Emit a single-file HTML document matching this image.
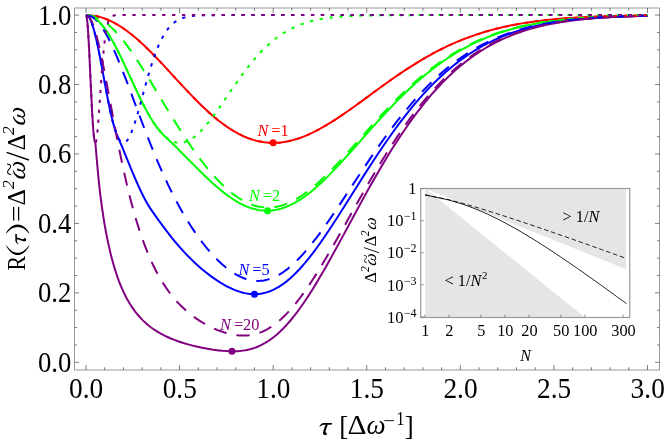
<!DOCTYPE html>
<html><head><meta charset="utf-8"><title>R(tau)</title>
<style>
html,body{margin:0;padding:0;background:#fff;}
body{width:664px;height:441px;overflow:hidden;font-family:"Liberation Serif",serif;}
svg{display:block;will-change:transform;font-family:"Liberation Serif",serif;}
.i{font-style:italic;}
</style></head><body>
<svg width="664" height="441" viewBox="0 0 664 441">
<g fill="none" stroke-width="2" stroke-linejoin="round">
<path d="M86.00,15.10L88.62,15.17L91.24,15.37L93.86,15.71L95.36,15.97L96.86,16.26L99.48,16.89L102.10,17.65L104.72,18.54L107.71,19.71L110.33,20.87L113.33,22.34L115.95,23.76L118.94,25.53L121.94,27.44L124.93,29.49L127.93,31.67L130.92,33.98L133.17,35.79L135.79,37.99L138.41,40.27L141.03,42.63L143.65,45.06L146.64,47.92L149.26,50.48L152.26,53.49L157.12,58.49L162.74,64.43L167.98,70.08L181.08,84.32L188.19,91.92L191.94,95.84L195.31,99.30L198.68,102.68L201.67,105.61L205.04,108.82L208.41,111.92L211.78,114.92L214.77,117.47L218.14,120.23L221.14,122.56L224.13,124.79L227.13,126.89L230.12,128.88L233.12,130.74L236.11,132.48L238.73,133.89L241.73,135.38L244.72,136.74L247.71,137.96L250.34,138.92L253.33,139.88L255.95,140.61L258.57,141.24L261.57,141.83L264.19,142.23L267.18,142.56L270.18,142.76L273.17,142.83L275.79,142.78L278.41,142.63L281.03,142.38L284.03,141.99L286.65,141.54L289.27,141.00L291.89,140.38L294.88,139.56L297.50,138.75L300.50,137.73L303.49,136.60L306.49,135.38L309.48,134.07L312.48,132.67L315.47,131.19L318.47,129.62L321.09,128.20L323.71,126.71L326.33,125.18L329.32,123.37L334.94,119.83L337.93,117.87L341.30,115.61L347.29,111.48L354.03,106.70L360.77,101.82L380.98,87.05L387.34,82.47L393.33,78.25L400.07,73.62L406.44,69.39L412.80,65.30L418.79,61.61L422.53,59.38L425.90,57.42L429.64,55.31L433.01,53.47L436.76,51.49L440.13,49.76L443.49,48.08L446.86,46.46L450.23,44.90L453.60,43.39L456.97,41.94L460.71,40.38L464.08,39.04L467.83,37.62L471.20,36.39L474.94,35.08L478.68,33.83L482.80,32.53L486.92,31.30L491.04,30.14L495.15,29.05L499.27,28.02L503.39,27.05L507.51,26.15L511.62,25.30L516.12,24.43L520.61,23.63L525.10,22.88L529.59,22.19L534.46,21.50L539.33,20.87L544.19,20.30L549.06,19.77L554.30,19.25L559.54,18.79L564.78,18.37L570.02,17.99L575.64,17.63L581.63,17.29L587.62,16.99L600.34,16.48L614.57,16.05L629.92,15.73L647.51,15.49" stroke="#ff0000"/>
<path d="M86.00,15.10L86.94,15.13L88.34,15.32L89.74,15.65L91.15,16.15L92.55,16.79L93.95,17.59L95.36,18.54L96.76,19.63L98.17,20.87L99.57,22.25L100.97,23.76L102.38,25.41L103.78,27.19L105.18,29.09L106.59,31.11L107.99,33.24L110.33,37.04L111.74,39.44L113.14,41.94L115.95,47.19L118.75,52.73L121.09,57.52L123.90,63.43L134.20,85.73L137.94,93.69L140.28,98.53L142.15,102.30L144.02,105.97L145.89,109.52L148.23,113.77L150.11,117.00L152.45,120.82L154.32,123.69L156.19,126.38L158.06,128.88L159.93,131.19L161.80,133.30L163.68,135.20L169.76,140.92L175.84,146.84L181.46,152.44L198.30,169.42L203.92,174.94L207.66,178.52L211.40,182.00L213.28,183.70L217.02,187.00L218.89,188.59L222.63,191.66L224.51,193.13L228.25,195.93L230.12,197.25L231.99,198.53L233.86,199.74L235.74,200.91L237.61,202.01L239.48,203.05L241.35,204.04L243.22,204.96L245.09,205.81L246.97,206.60L248.84,207.33L250.71,207.98L252.58,208.57L254.45,209.08L256.32,209.53L258.20,209.90L260.07,210.20L261.94,210.43L263.81,210.59L265.68,210.67L267.55,210.68L269.43,210.62L271.30,210.49L273.17,210.28L275.04,210.00L276.91,209.64L278.79,209.22L280.66,208.72L282.53,208.15L284.40,207.52L286.27,206.81L288.14,206.04L290.02,205.20L291.89,204.30L293.76,203.33L295.63,202.30L297.50,201.21L299.37,200.06L301.25,198.85L303.12,197.58L304.99,196.26L306.86,194.89L308.73,193.46L312.48,190.46L314.35,188.89L318.09,185.62L319.96,183.92L323.71,180.41L325.58,178.60L329.32,174.88L334.94,169.10L340.55,163.11L346.17,156.95L353.65,148.58L372.37,127.46L379.86,119.16L385.47,113.07L389.22,109.08L392.96,105.16L398.57,99.42L402.32,95.70L406.06,92.06L411.68,86.78L415.42,83.37L419.16,80.06L422.91,76.85L426.65,73.75L430.39,70.74L434.14,67.84L436.01,66.42L439.75,63.67L443.49,61.03L447.24,58.48L450.98,56.04L454.72,53.70L458.47,51.46L462.21,49.31L465.96,47.27L469.70,45.31L473.44,43.45L477.19,41.68L480.93,39.99L486.54,37.62L490.29,36.14L494.03,34.74L497.77,33.42L503.39,31.57L507.13,30.43L512.75,28.83L516.49,27.85L522.11,26.48L525.85,25.64L531.46,24.48L535.21,23.77L540.82,22.78L544.57,22.18L550.18,21.36L555.80,20.62L561.41,19.96L567.03,19.36L572.64,18.84L578.26,18.37L585.74,17.82L591.36,17.47L598.85,17.06L606.33,16.72L613.82,16.43L621.31,16.19L628.79,15.99L638.15,15.79L647.51,15.63" stroke="#00ff00"/>
<path d="M86.00,15.10L86.47,15.15L86.94,15.32L87.40,15.59L87.87,15.97L88.34,16.45L88.81,17.04L89.28,17.74L89.74,18.54L90.21,19.44L90.68,20.44L91.15,21.54L91.62,22.74L92.55,25.41L93.49,28.44L93.95,30.09L94.89,33.61L95.83,37.43L96.76,41.52L97.70,45.85L99.10,52.73L101.44,64.93L106.59,92.71L108.46,102.30L109.86,109.08L111.27,115.40L112.67,121.19L114.08,126.38L115.01,129.48L115.48,130.91L116.42,133.55L116.88,134.75L119.69,141.21L122.03,146.73L124.84,153.51L132.32,171.78L134.66,177.35L137.00,182.77L138.88,186.95L140.28,189.99L141.68,192.94L143.09,195.77L144.49,198.50L145.89,201.10L147.30,203.57L148.23,205.14L150.11,208.11L153.38,212.89L157.59,218.89L161.80,224.71L165.55,229.72L168.82,233.97L172.10,238.09L175.37,242.06L178.65,245.90L181.46,249.07L185.20,253.14L188.94,257.02L190.82,258.89L194.56,262.49L198.30,265.92L202.05,269.17L205.79,272.25L209.53,275.16L213.28,277.89L217.02,280.44L220.76,282.82L222.63,283.94L224.51,285.01L226.38,286.03L228.25,287.00L230.12,287.91L231.99,288.78L233.86,289.58L235.74,290.33L237.61,291.02L239.48,291.65L241.35,292.21L243.22,292.70L245.09,293.13L246.97,293.48L248.84,293.76L250.71,293.96L252.58,294.09L254.45,294.13L256.32,294.09L258.20,293.98L260.07,293.77L261.94,293.48L263.81,293.10L265.68,292.64L267.55,292.08L269.43,291.44L271.30,290.70L273.17,289.88L275.04,288.97L276.91,287.96L278.79,286.87L280.66,285.69L282.53,284.42L284.40,283.07L286.27,281.63L288.14,280.11L290.02,278.51L291.89,276.82L293.76,275.06L295.63,273.22L297.50,271.30L299.37,269.31L301.25,267.26L303.12,265.13L304.99,262.94L306.86,260.69L308.73,258.37L312.48,253.58L314.35,251.10L318.09,245.99L319.96,243.37L323.71,238.01L329.32,229.71L333.06,224.02L336.81,218.25L344.29,206.50L357.40,185.70L364.88,173.90L372.37,162.30L377.99,153.78L381.73,148.21L385.47,142.74L391.09,134.73L394.83,129.53L398.57,124.46L404.19,117.08L407.93,112.32L411.68,107.70L415.42,103.21L419.16,98.87L422.91,94.66L426.65,90.59L430.39,86.67L434.14,82.89L437.88,79.24L441.62,75.74L445.37,72.38L449.11,69.15L452.85,66.06L456.60,63.10L460.34,60.27L464.08,57.57L467.83,54.99L471.57,52.53L475.31,50.20L477.19,49.07L480.93,46.91L484.67,44.86L488.42,42.91L492.16,41.07L494.03,40.18L497.77,38.49L501.52,36.89L503.39,36.12L507.13,34.66L510.88,33.28L516.49,31.36L520.23,30.18L525.85,28.54L531.46,27.06L537.08,25.71L542.69,24.50L548.31,23.41L553.93,22.44L559.54,21.56L565.16,20.77L570.77,20.08L576.39,19.45L583.87,18.73L589.49,18.26L596.97,17.72L604.46,17.27L611.95,16.88L619.43,16.56L628.79,16.24L638.15,15.98L647.51,15.77" stroke="#0000ff"/>
<path d="M86.00,15.10L86.47,15.97L86.94,18.54L87.40,22.74L87.87,28.44L88.34,35.49L88.81,43.66L89.28,52.73L91.15,92.71L92.08,111.24L92.55,119.32L93.02,126.38L93.49,132.27L93.95,136.90L94.42,140.21L94.89,142.18L95.36,142.83L97.23,164.47L98.63,179.59L99.57,188.57L100.04,192.62L100.97,199.90L101.91,206.79L103.31,216.47L104.25,222.42L105.18,227.86L106.12,232.95L107.52,239.91L108.93,246.39L110.33,252.48L111.74,258.10L112.67,261.55L114.54,267.99L115.95,272.48L117.35,276.68L118.75,280.55L120.63,285.27L122.03,288.60L123.90,292.74L125.77,296.53L127.18,299.16L129.52,303.23L131.39,306.16L133.73,309.56L135.60,312.08L137.94,314.98L140.28,317.64L142.62,320.10L144.96,322.36L146.36,323.63L147.77,324.83L150.11,326.71L151.51,327.76L152.91,328.75L154.32,329.71L156.19,330.91L159.46,332.88L162.74,334.67L164.61,335.62L166.48,336.53L170.23,338.22L172.10,339.00L174.44,339.93L178.65,341.48L183.33,343.02L187.07,344.13L188.94,344.66L192.69,345.64L196.43,346.53L202.05,347.75L207.66,348.80L213.28,349.71L217.02,350.22L218.89,350.45L222.63,350.83L226.38,351.11L228.25,351.21L231.99,351.30L233.86,351.30L235.74,351.25L237.61,351.16L239.48,351.02L241.35,350.83L243.22,350.59L245.09,350.30L246.97,349.95L248.84,349.53L250.71,349.06L252.58,348.51L254.45,347.90L256.32,347.21L258.20,346.45L260.07,345.62L261.94,344.70L263.81,343.71L265.68,342.63L267.55,341.47L269.43,340.23L271.30,338.91L273.17,337.50L275.04,336.00L276.91,334.42L278.79,332.75L280.66,331.00L282.53,329.17L284.40,327.25L286.27,325.24L288.14,323.16L290.02,321.00L291.89,318.75L293.76,316.43L295.63,314.04L297.50,311.57L299.37,309.03L303.12,303.75L306.86,298.21L308.73,295.35L312.48,289.46L316.22,283.37L319.96,277.10L325.58,267.40L329.32,260.77L333.06,254.04L340.55,240.36L355.52,212.68L361.14,202.37L368.63,188.84L374.24,178.91L377.99,172.41L381.73,166.01L385.47,159.74L389.22,153.60L392.96,147.59L396.70,141.72L400.45,136.00L402.32,133.19L406.06,127.70L409.80,122.36L413.55,117.18L417.29,112.16L421.03,107.30L424.78,102.61L428.52,98.08L432.26,93.71L436.01,89.50L439.75,85.45L443.49,81.57L447.24,77.84L450.98,74.27L454.72,70.85L458.47,67.58L462.21,64.45L465.96,61.47L469.70,58.63L473.44,55.93L475.31,54.63L479.06,52.12L482.80,49.75L486.54,47.49L490.29,45.36L492.16,44.33L495.90,42.37L499.65,40.51L501.52,39.62L505.26,37.92L509.00,36.32L510.88,35.56L514.62,34.09L518.36,32.72L523.98,30.82L529.59,29.09L535.21,27.53L540.82,26.12L546.44,24.85L552.05,23.71L557.67,22.68L563.28,21.77L568.90,20.95L574.51,20.22L582.00,19.38L589.49,18.66L596.97,18.05L604.46,17.54L611.95,17.11L619.43,16.75L628.79,16.38L638.15,16.09L647.51,15.86" stroke="#800080"/>
<path d="M86.00,15.10L87.87,15.17L88.81,15.26L90.21,15.45L91.15,15.62L92.55,15.95L93.49,16.21L94.89,16.66L96.76,17.38L97.70,17.79L99.10,18.47L100.04,18.96L101.44,19.76L103.78,21.26L106.12,22.94L108.46,24.82L110.80,26.88L113.14,29.11L115.48,31.51L117.82,34.06L120.16,36.77L122.97,40.21L124.84,42.61L126.71,45.08L128.58,47.63L130.92,50.92L133.26,54.30L135.60,57.78L140.28,64.96L144.49,71.64L149.17,79.23L166.48,107.92L173.97,120.13L177.71,126.10L181.46,131.96L185.20,137.69L188.94,143.28L192.69,148.71L196.43,153.96L200.17,159.04L203.92,163.91L207.66,168.58L211.40,173.03L215.15,177.26L217.02,179.28L218.89,181.24L220.76,183.14L222.63,184.98L224.51,186.75L226.38,188.46L228.25,190.10L230.12,191.67L231.99,193.17L233.86,194.60L235.74,195.97L237.61,197.25L239.48,198.47L241.35,199.61L243.22,200.68L245.09,201.67L246.97,202.59L248.84,203.43L250.71,204.19L252.58,204.88L254.45,205.48L256.32,206.01L258.20,206.46L260.07,206.84L261.94,207.13L263.81,207.34L265.68,207.48L267.55,207.54L269.43,207.52L271.30,207.42L273.17,207.24L275.04,206.99L276.91,206.67L278.79,206.26L280.66,205.79L282.53,205.24L284.40,204.62L286.27,203.93L288.14,203.17L290.02,202.34L291.89,201.44L293.76,200.48L295.63,199.46L297.50,198.37L299.37,197.22L301.25,196.01L303.12,194.75L304.99,193.43L306.86,192.05L310.60,189.15L312.48,187.63L316.22,184.44L318.09,182.78L321.83,179.35L323.71,177.58L327.45,173.93L333.06,168.25L338.68,162.34L342.42,158.30L346.17,154.21L351.78,147.99L366.76,131.23L372.37,124.99L377.99,118.84L383.60,112.79L387.34,108.84L391.09,104.95L396.70,99.25L400.45,95.55L404.19,91.94L409.80,86.69L413.55,83.30L417.29,80.02L421.03,76.83L424.78,73.74L428.52,70.75L432.26,67.86L434.14,66.45L437.88,63.72L441.62,61.08L445.37,58.55L449.11,56.12L452.85,53.79L456.60,51.55L460.34,49.42L464.08,47.37L467.83,45.42L471.57,43.56L475.31,41.80L479.06,40.11L484.67,37.74L488.42,36.27L492.16,34.87L495.90,33.54L501.52,31.69L505.26,30.55L510.88,28.95L514.62,27.96L520.23,26.59L523.98,25.74L529.59,24.58L533.34,23.86L538.95,22.87L542.69,22.27L548.31,21.44L553.93,20.69L559.54,20.02L565.16,19.43L570.77,18.89L576.39,18.42L583.87,17.87L589.49,17.51L596.97,17.10L604.46,16.75L611.95,16.46L619.43,16.22L628.79,15.97L638.15,15.77L647.51,15.61" stroke="#00ff00" stroke-dasharray="13.3 10.08"/>
<path d="M86.00,15.10L86.47,15.11L87.40,15.20L87.87,15.27L88.81,15.49L89.28,15.63L90.21,15.98L91.62,16.66L93.02,17.52L94.42,18.58L95.83,19.82L97.23,21.24L98.63,22.83L100.04,24.60L101.44,26.53L103.31,29.34L104.72,31.63L106.59,34.91L107.99,37.52L109.86,41.20L112.20,46.08L115.01,52.33L117.82,58.92L121.09,66.99L123.90,74.14L127.18,82.70L140.28,117.73L143.55,126.37L146.83,134.86L150.57,144.35L153.85,152.43L157.12,160.28L160.40,167.89L164.14,176.27L167.89,184.30L171.63,191.99L175.37,199.33L177.25,202.87L179.12,206.32L181.46,210.52L183.33,213.79L185.20,216.97L187.07,220.07L188.94,223.09L190.82,226.03L192.69,228.90L194.56,231.68L196.43,234.39L198.30,237.03L200.17,239.59L202.05,242.08L203.92,244.49L205.79,246.83L207.66,249.11L209.53,251.30L211.40,253.43L213.28,255.49L215.15,257.47L217.02,259.38L218.89,261.22L220.76,262.98L222.63,264.67L224.51,266.28L226.38,267.82L228.25,269.28L230.12,270.66L231.99,271.96L233.86,273.17L235.74,274.31L237.61,275.36L239.48,276.32L241.35,277.19L243.22,277.98L245.09,278.68L246.97,279.28L248.84,279.79L250.71,280.21L252.58,280.53L254.45,280.76L256.32,280.89L258.20,280.92L260.07,280.86L261.94,280.70L263.81,280.44L265.68,280.08L267.55,279.63L269.43,279.08L271.30,278.43L273.17,277.69L275.04,276.85L276.91,275.92L278.79,274.90L280.66,273.78L282.53,272.58L284.40,271.29L286.27,269.92L288.14,268.46L290.02,266.91L291.89,265.29L293.76,263.59L295.63,261.82L297.50,259.97L299.37,258.05L301.25,256.07L303.12,254.02L304.99,251.90L308.73,247.50L310.60,245.21L314.35,240.48L316.22,238.04L319.96,233.04L321.83,230.48L325.58,225.25L331.19,217.19L336.81,208.91L344.29,197.66L357.40,177.76L363.01,169.29L370.50,158.16L376.11,149.98L379.86,144.62L383.60,139.35L389.22,131.64L392.96,126.63L396.70,121.73L402.32,114.61L406.06,110.01L409.80,105.54L413.55,101.20L417.29,96.99L421.03,92.92L424.78,88.98L428.52,85.17L432.26,81.50L436.01,77.96L439.75,74.55L443.49,71.28L447.24,68.14L450.98,65.13L454.72,62.25L458.47,59.49L462.21,56.85L465.96,54.34L469.70,51.94L473.44,49.66L475.31,48.56L479.06,46.44L482.80,44.43L486.54,42.53L490.29,40.72L492.16,39.85L495.90,38.19L499.65,36.62L501.52,35.87L505.26,34.43L509.00,33.08L514.62,31.19L518.36,30.03L523.98,28.42L529.59,26.95L535.21,25.63L540.82,24.44L546.44,23.36L552.05,22.39L557.67,21.53L563.28,20.75L568.90,20.06L574.51,19.44L582.00,18.73L589.49,18.12L596.97,17.60L604.46,17.17L611.95,16.80L619.43,16.50L628.79,16.18L638.15,15.94L647.51,15.74" stroke="#0000ff" stroke-dasharray="13.3 10.08"/>
<path d="M86.00,15.10L86.47,15.14L86.94,15.27L87.40,15.49L87.87,15.79L88.34,16.18L88.81,16.66L89.28,17.21L89.74,17.86L90.21,18.58L90.68,19.39L91.62,21.24L92.08,22.28L93.02,24.60L93.95,27.21L94.89,30.09L96.29,34.91L97.23,38.42L98.17,42.15L99.57,48.13L100.97,54.50L102.38,61.20L103.78,68.19L106.59,82.75L112.67,115.37L115.48,130.22L118.29,144.62L121.09,158.42L123.90,171.52L125.31,177.79L126.71,183.87L128.11,189.75L129.52,195.43L130.92,200.93L132.32,206.23L134.66,214.64L136.07,219.44L137.47,224.07L139.81,231.39L141.22,235.56L142.62,239.57L144.02,243.43L145.43,247.13L146.83,250.70L148.23,254.12L149.64,257.41L151.04,260.58L152.45,263.62L153.85,266.55L155.72,270.27L157.59,273.81L159.46,277.17L161.80,281.13L163.68,284.12L166.02,287.66L168.35,290.98L170.69,294.10L172.57,296.46L174.91,299.26L177.25,301.89L179.58,304.38L181.46,306.26L183.33,308.06L185.20,309.78L187.07,311.43L188.94,313.00L190.82,314.50L192.69,315.94L194.56,317.31L196.43,318.63L198.30,319.89L200.17,321.10L202.05,322.26L203.92,323.36L205.79,324.42L207.66,325.44L209.53,326.40L211.40,327.32L213.28,328.20L215.15,329.03L217.02,329.82L218.89,330.56L220.76,331.26L222.63,331.91L224.51,332.52L226.38,333.08L228.25,333.58L230.12,334.04L231.99,334.44L233.86,334.78L235.74,335.07L237.61,335.30L239.48,335.47L241.35,335.57L243.22,335.60L245.09,335.57L246.97,335.46L248.84,335.29L250.71,335.03L252.58,334.70L254.45,334.29L256.32,333.80L258.20,333.22L260.07,332.56L261.94,331.82L263.81,330.99L265.68,330.07L267.55,329.06L269.43,327.97L271.30,326.78L273.17,325.51L275.04,324.14L276.91,322.69L278.79,321.15L280.66,319.53L282.53,317.82L284.40,316.02L286.27,314.14L288.14,312.17L290.02,310.13L291.89,308.00L293.76,305.80L295.63,303.52L297.50,301.17L299.37,298.75L301.25,296.26L303.12,293.70L306.86,288.39L308.73,285.65L312.48,280.01L316.22,274.16L319.96,268.13L325.58,258.80L329.32,252.43L333.06,245.95L340.55,232.77L355.52,206.09L361.14,196.15L368.63,183.10L374.24,173.51L377.99,167.24L381.73,161.07L385.47,155.01L389.22,149.08L392.96,143.27L396.70,137.61L400.45,132.08L402.32,129.37L406.06,124.06L409.80,118.90L413.55,113.89L417.29,109.04L421.03,104.34L424.78,99.80L428.52,95.42L432.26,91.20L436.01,87.13L439.75,83.22L443.49,79.46L447.24,75.85L450.98,72.39L454.72,69.08L458.47,65.92L462.21,62.89L465.96,60.01L469.70,57.26L473.44,54.64L475.31,53.38L479.06,50.96L482.80,48.66L486.54,46.47L490.29,44.41L492.16,43.41L495.90,41.51L499.65,39.71L501.52,38.85L505.26,37.21L509.00,35.66L510.88,34.91L514.62,33.50L518.36,32.17L523.98,30.33L529.59,28.65L535.21,27.14L540.82,25.77L546.44,24.54L552.05,23.44L557.67,22.45L563.28,21.56L568.90,20.77L574.51,20.06L582.00,19.24L589.49,18.55L596.97,17.96L604.46,17.46L611.95,17.04L619.43,16.69L628.79,16.34L638.15,16.06L647.51,15.83" stroke="#800080" stroke-dasharray="13.3 10.08"/>
<path d="M86.00,15.10L88.62,15.17L91.24,15.37L93.86,15.71L95.36,15.97L96.86,16.26L99.48,16.89L102.10,17.65L104.72,18.54L107.71,19.71L110.33,20.87L113.33,22.34L115.95,23.76L118.94,25.53L121.94,27.44L124.93,29.49L127.93,31.67L130.92,33.98L133.17,35.79L135.79,37.99L138.41,40.27L141.03,42.63L143.65,45.06L146.64,47.92L149.26,50.48L152.26,53.49L157.12,58.49L162.74,64.43L167.98,70.08L181.08,84.32L188.19,91.92L191.94,95.84L195.31,99.30L198.68,102.68L201.67,105.61L205.04,108.82L208.41,111.92L211.78,114.92L214.77,117.47L218.14,120.23L221.14,122.56L224.13,124.79L227.13,126.89L230.12,128.88L233.12,130.74L236.11,132.48L238.73,133.89L241.73,135.38L244.72,136.74L247.71,137.96L250.34,138.92L253.33,139.88L255.95,140.61L258.57,141.24L261.57,141.83L264.19,142.23L267.18,142.56L270.18,142.76L273.17,142.83L275.79,142.78L278.41,142.63L281.03,142.38L284.03,141.99L286.65,141.54L289.27,141.00L291.89,140.38L294.88,139.56L297.50,138.75L300.50,137.73L303.49,136.60L306.49,135.38L309.48,134.07L312.48,132.67L315.47,131.19L318.47,129.62L321.09,128.20L323.71,126.71L326.33,125.18L329.32,123.37L334.94,119.83L337.93,117.87L341.30,115.61L347.29,111.48L354.03,106.70L360.77,101.82L380.98,87.05L387.34,82.47L393.33,78.25L400.07,73.62L406.44,69.39L412.80,65.30L418.79,61.61L422.53,59.38L425.90,57.42L429.64,55.31L433.01,53.47L436.76,51.49L440.13,49.76L443.49,48.08L446.86,46.46L450.23,44.90L453.60,43.39L456.97,41.94L460.71,40.38L464.08,39.04L467.83,37.62L471.20,36.39L474.94,35.08L478.68,33.83L482.80,32.53L486.92,31.30L491.04,30.14L495.15,29.05L499.27,28.02L503.39,27.05L507.51,26.15L511.62,25.30L516.12,24.43L520.61,23.63L525.10,22.88L529.59,22.19L534.46,21.50L539.33,20.87L544.19,20.30L549.06,19.77L554.30,19.25L559.54,18.79L564.78,18.37L570.02,17.99L575.64,17.63L581.63,17.29L587.62,16.99L600.34,16.48L614.57,16.05L629.92,15.73L647.51,15.49" stroke="#ff0000" stroke-dasharray="3.3 6.62"/>
<path d="M86.00,15.10L87.31,15.17L88.71,15.39L90.02,15.74L91.43,16.26L92.74,16.89L94.14,17.71L95.45,18.61L96.86,19.71L98.26,20.96L99.66,22.34L101.07,23.87L102.47,25.53L103.87,27.31L105.37,29.35L106.87,31.53L108.46,33.98L110.89,37.99L113.51,42.63L116.23,47.73L119.04,53.30L121.56,58.49L124.28,64.23L133.63,84.52L137.19,92.12L140.75,99.48L143.93,105.79L145.61,108.99L147.30,112.09L148.89,114.92L150.48,117.63L152.07,120.23L153.57,122.56L155.07,124.79L156.56,126.89L158.06,128.88L159.56,130.74L161.06,132.48L162.46,133.99L163.96,135.47L165.36,136.74L166.76,137.89L168.17,138.92L169.57,139.83L170.98,140.61L172.38,141.28L173.88,141.86L175.28,142.28L176.68,142.58L178.09,142.76L179.58,142.83L180.99,142.77L182.39,142.60L183.80,142.32L185.20,141.93L186.60,141.43L188.01,140.83L189.41,140.13L190.91,139.28L192.41,138.31L193.90,137.25L195.40,136.08L196.99,134.74L198.58,133.29L200.17,131.75L201.76,130.12L203.45,128.30L206.07,125.29L208.88,121.86L211.78,118.11L214.96,113.82L217.77,109.90L220.86,105.49L232.37,88.67L237.33,81.54L239.95,77.86L242.47,74.39L244.81,71.24L247.15,68.17L249.77,64.83L252.30,61.72L254.83,58.72L257.35,55.83L259.88,53.07L262.31,50.52L264.75,48.08L267.18,45.76L269.61,43.56L272.14,41.39L274.57,39.41L277.10,37.48L279.63,35.66L282.15,33.95L284.77,32.30L287.39,30.77L290.02,29.34L292.73,27.98L295.44,26.72L298.25,25.52L301.06,24.43L303.96,23.40L306.95,22.44L310.04,21.55L312.85,20.83L315.66,20.17L318.56,19.56L321.55,19.00L324.64,18.49L327.82,18.02L331.10,17.60L334.56,17.22L338.12,16.88L341.86,16.57L345.79,16.30L349.91,16.07L354.21,15.87L358.89,15.70L369.38,15.43L377.99,15.30L388.00,15.21L415.98,15.12L647.51,15.10" stroke="#00ff00" stroke-dasharray="3.3 6.62"/>
<path d="M86.00,15.10L86.47,15.15L87.03,15.36L87.59,15.73L88.15,16.24L88.71,16.92L89.28,17.74L89.84,18.71L90.40,19.83L90.96,21.09L91.52,22.49L92.08,24.03L92.64,25.70L93.77,29.42L94.98,33.98L95.92,37.83L96.95,42.37L98.07,47.64L99.20,53.20L101.35,64.43L106.50,92.22L107.90,99.48L109.21,105.97L110.52,112.09L111.83,117.79L113.05,122.64L114.26,127.02L115.48,130.91L116.60,134.04L117.16,135.43L117.73,136.70L118.29,137.85L118.85,138.88L119.41,139.80L119.97,140.59L120.53,141.26L121.09,141.81L121.66,142.24L122.22,142.56L122.78,142.75L123.43,142.83L124.00,142.77L124.56,142.60L125.12,142.32L125.68,141.93L126.24,141.43L126.80,140.83L127.36,140.13L127.93,139.33L128.49,138.44L129.05,137.45L129.61,136.38L130.27,135.02L131.48,132.22L132.79,128.81L133.82,125.90L134.94,122.50L136.16,118.61L137.38,114.53L139.81,105.96L144.77,87.86L146.92,80.16L149.26,72.11L151.42,65.12L152.63,61.38L153.85,57.80L155.07,54.38L156.28,51.15L157.50,48.08L158.62,45.42L159.84,42.70L161.06,40.16L162.37,37.62L163.68,35.27L164.99,33.11L166.30,31.14L167.70,29.22L169.10,27.49L170.51,25.93L172.00,24.45L173.50,23.14L175.09,21.92L176.68,20.86L178.37,19.90L180.15,19.03L181.92,18.31L183.89,17.65L185.95,17.08L188.29,16.58L190.91,16.16L193.72,15.83L196.90,15.57L200.36,15.39L204.48,15.26L209.35,15.17L215.71,15.13L239.57,15.10L647.51,15.10" stroke="#0000ff" stroke-dasharray="3.3 6.62"/>
<path d="M86.00,15.10L86.09,15.13L86.28,15.41L86.56,16.35L86.84,17.89L87.12,20.03L87.40,22.74L87.68,25.99L88.25,33.98L88.71,41.94L89.28,52.73L91.15,92.71L91.80,105.97L92.46,117.79L93.02,126.38L93.39,131.19L93.67,134.28L93.95,136.90L94.24,139.04L94.52,140.71L94.80,141.89L95.08,142.60L95.17,142.72L95.26,142.80L95.36,142.83L95.45,142.80L95.55,142.73L95.64,142.60L95.83,142.20L96.11,141.24L96.39,139.88L96.67,138.12L96.95,136.01L97.23,133.56L97.60,129.82L98.17,123.37L98.73,116.12L101.35,78.51L102.00,69.63L102.66,61.38L103.41,52.87L104.06,46.29L104.72,40.54L105.47,34.95L106.21,30.35L106.59,28.39L107.06,26.23L107.52,24.36L107.99,22.76L108.46,21.40L108.93,20.25L109.40,19.29L109.96,18.34L110.52,17.59L111.08,16.99L111.74,16.46L112.39,16.07L113.14,15.75L113.98,15.51L115.29,15.29L116.88,15.17L119.04,15.12L122.87,15.10L647.51,15.10" stroke="#800080" stroke-dasharray="3.3 6.62"/>
</g>
<circle cx="273.17" cy="142.83" r="3.5" fill="#ff0000"/>
<circle cx="267.55" cy="210.68" r="3.5" fill="#00ff00"/>
<circle cx="254.45" cy="294.13" r="3.5" fill="#0000ff"/>
<circle cx="231.99" cy="351.30" r="3.5" fill="#800080"/>
<g font-size="16.3" fill="#ff0000"><text x="257.40" y="136.00" class="i">N</text><text x="271.30" y="136.00">=</text><text x="280.40" y="136.00">1</text></g>
<g font-size="16.3" fill="#00ff00"><text x="248.90" y="200.60" class="i">N</text><text x="262.80" y="200.60">=</text><text x="271.90" y="200.60">2</text></g>
<g font-size="16.3" fill="#0000ff"><text x="238.40" y="274.80" class="i">N</text><text x="252.30" y="274.80">=</text><text x="261.40" y="274.80">5</text></g>
<g font-size="16.3" fill="#800080"><text x="220.00" y="330.10" class="i">N</text><text x="233.90" y="330.10">=</text><text x="243.00" y="330.10">20</text></g>
<!-- inset -->
<rect x="420.70" y="188.50" width="209.05" height="129.00" fill="#fff"/>
<path d="M425.30,188.50 L626.00,188.50 L626.00,269.15 Z" fill="#e5e5e5"/>
<path d="M425.30,188.50 L425.30,317.50 L585.00,317.50 Z" fill="#e5e5e5"/>
<path d="M425.00,194.89L449.08,200.05L463.17,204.34L473.16,208.01L480.92,211.19L487.25,214.01L497.25,218.83L505.00,222.84L514.12,227.84L521.33,232.00L529.08,236.63L536.84,241.42L545.41,246.89L553.16,251.96L560.92,257.14L568.95,262.60L577.25,268.33L585.00,273.76L593.03,279.45L601.33,285.39L609.08,290.99L616.84,296.63L623.17,301.26L626.43,303.61" fill="none" stroke="#000" stroke-width="0.85"/>
<path d="M425.00,194.89L449.08,199.76L463.17,203.49L473.16,206.39L480.92,208.73L487.25,210.67L497.25,213.81L505.00,216.30L514.12,219.27L521.33,221.66L529.08,224.26L536.84,226.89L545.41,229.82L553.16,232.50L560.92,235.19L568.95,238.00L577.25,240.92L585.00,243.66L593.03,246.51L601.33,249.47L609.08,252.25L616.84,255.04L623.17,257.32L626.43,258.49" fill="none" stroke="#000" stroke-width="0.85" stroke-dasharray="4.6 2.7"/>
<rect x="420.70" y="188.50" width="209.05" height="129.00" fill="none" stroke="#999" stroke-width="1.2"/>
<path d="M425.00 317.50v-3M449.08 317.50v-3M480.92 317.50v-3M505.00 317.50v-3M529.08 317.50v-3M560.92 317.50v-3M585.00 317.50v-3M623.17 317.50v-3M420.70 188.50h3M420.70 220.60h3M420.70 252.70h3M420.70 284.80h3M420.70 316.90h3" stroke="#777" stroke-width="0.8" fill="none"/>
<g fill="#000">
<text x="425.30" y="336.2" text-anchor="middle" font-size="16.3">1</text>
<text x="449.38" y="336.2" text-anchor="middle" font-size="16.3">2</text>
<text x="481.22" y="336.2" text-anchor="middle" font-size="16.3">5</text>
<text x="505.30" y="336.2" text-anchor="middle" font-size="16.3">10</text>
<text x="529.38" y="336.2" text-anchor="middle" font-size="16.3">20</text>
<text x="561.22" y="336.2" text-anchor="middle" font-size="16.3">50</text>
<text x="585.30" y="336.2" text-anchor="middle" font-size="16.3">100</text>
<text x="623.47" y="336.2" text-anchor="middle" font-size="16.3">300</text>
<text x="403.5" y="226.30" text-anchor="end" font-size="16.6">10</text><text x="403.9" y="220.30" font-size="12">−</text><text x="410.6" y="220.30" font-size="12">1</text>
<text x="403.5" y="258.40" text-anchor="end" font-size="16.6">10</text><text x="403.9" y="252.40" font-size="12">−</text><text x="410.6" y="252.40" font-size="12">2</text>
<text x="403.5" y="290.50" text-anchor="end" font-size="16.6">10</text><text x="403.9" y="284.50" font-size="12">−</text><text x="410.6" y="284.50" font-size="12">3</text>
<text x="403.5" y="322.60" text-anchor="end" font-size="16.6">10</text><text x="403.9" y="316.60" font-size="12">−</text><text x="410.6" y="316.60" font-size="12">4</text>
<text x="416.3" y="194.00" text-anchor="end" font-size="16.3">1</text>
<text x="562.5" y="222.2" font-size="16.3">&gt; 1/<tspan class="i">N</tspan></text>
<text x="444.6" y="285.6" font-size="16.3">&lt; 1/<tspan class="i">N</tspan><tspan dx="0.6" dy="-7.1" font-size="11">2</tspan></text>
<text x="525.5" y="361" font-size="16" class="i" text-anchor="middle">N</text>
<g transform="translate(376.3,283) rotate(-90) scale(0.665) translate(-65.1,0)" font-size="26">
<text transform="translate(65.00,0.00) scale(0.980,1.000)">Δ</text>
<text transform="translate(81.50,-11.30) scale(1.000,1.000)" font-size="17.5" class="i">2</text>
<text transform="translate(90.40,0.00) scale(1.000,1.000) skewX(-10)" class="i">ω</text>
<text transform="translate(94.90,-9.00) scale(1.200,1.000)" font-size="20">~</text>
<path d="M110.6,4 L118.3,-18.4" stroke="#000" stroke-width="1.4" fill="none"/>
<text transform="translate(120.00,0.00) scale(0.980,1.000)">Δ</text>
<text transform="translate(135.50,-11.30) scale(1.000,1.000)" font-size="17.5" class="i">2</text>
<text transform="translate(144.40,0.00) scale(1.000,1.000) skewX(-10)" class="i">ω</text>
</g>
</g>
<!-- frame -->
<rect x="74.60" y="8.00" width="584.90" height="362.00" fill="none" stroke="#808080" stroke-width="0.8"/>
<path d="M86.00 370.00v-5.0M86.00 8.00v5.0M104.72 370.00v-2.8M104.72 8.00v2.8M123.43 370.00v-2.8M123.43 8.00v2.8M142.15 370.00v-2.8M142.15 8.00v2.8M160.87 370.00v-2.8M160.87 8.00v2.8M179.58 370.00v-5.0M179.58 8.00v5.0M198.30 370.00v-2.8M198.30 8.00v2.8M217.02 370.00v-2.8M217.02 8.00v2.8M235.74 370.00v-2.8M235.74 8.00v2.8M254.45 370.00v-2.8M254.45 8.00v2.8M273.17 370.00v-5.0M273.17 8.00v5.0M291.89 370.00v-2.8M291.89 8.00v2.8M310.60 370.00v-2.8M310.60 8.00v2.8M329.32 370.00v-2.8M329.32 8.00v2.8M348.04 370.00v-2.8M348.04 8.00v2.8M366.75 370.00v-5.0M366.75 8.00v5.0M385.47 370.00v-2.8M385.47 8.00v2.8M404.19 370.00v-2.8M404.19 8.00v2.8M422.91 370.00v-2.8M422.91 8.00v2.8M441.62 370.00v-2.8M441.62 8.00v2.8M460.34 370.00v-5.0M460.34 8.00v5.0M479.06 370.00v-2.8M479.06 8.00v2.8M497.77 370.00v-2.8M497.77 8.00v2.8M516.49 370.00v-2.8M516.49 8.00v2.8M535.21 370.00v-2.8M535.21 8.00v2.8M553.92 370.00v-5.0M553.92 8.00v5.0M572.64 370.00v-2.8M572.64 8.00v2.8M591.36 370.00v-2.8M591.36 8.00v2.8M610.08 370.00v-2.8M610.08 8.00v2.8M628.79 370.00v-2.8M628.79 8.00v2.8M647.51 370.00v-5.0M647.51 8.00v5.0M74.60 362.30h4.5M659.50 362.30h-4.5M74.60 344.94h2.5M659.50 344.94h-2.5M74.60 327.58h2.5M659.50 327.58h-2.5M74.60 310.22h2.5M659.50 310.22h-2.5M74.60 292.86h4.5M659.50 292.86h-4.5M74.60 275.50h2.5M659.50 275.50h-2.5M74.60 258.14h2.5M659.50 258.14h-2.5M74.60 240.78h2.5M659.50 240.78h-2.5M74.60 223.42h4.5M659.50 223.42h-4.5M74.60 206.06h2.5M659.50 206.06h-2.5M74.60 188.70h2.5M659.50 188.70h-2.5M74.60 171.34h2.5M659.50 171.34h-2.5M74.60 153.98h4.5M659.50 153.98h-4.5M74.60 136.62h2.5M659.50 136.62h-2.5M74.60 119.26h2.5M659.50 119.26h-2.5M74.60 101.90h2.5M659.50 101.90h-2.5M74.60 84.54h4.5M659.50 84.54h-4.5M74.60 67.18h2.5M659.50 67.18h-2.5M74.60 49.82h2.5M659.50 49.82h-2.5M74.60 32.46h2.5M659.50 32.46h-2.5M74.60 15.10h4.5M659.50 15.10h-4.5" stroke="#000" stroke-width="0.5" fill="none"/>
<g fill="#000">
<text transform="translate(86.20,397.9) scale(0.95,1)" text-anchor="middle" font-size="28.8">0.0</text>
<text transform="translate(179.78,397.9) scale(0.95,1)" text-anchor="middle" font-size="28.8">0.5</text>
<text transform="translate(273.37,397.9) scale(0.95,1)" text-anchor="middle" font-size="28.8">1.0</text>
<text transform="translate(366.95,397.9) scale(0.95,1)" text-anchor="middle" font-size="28.8">1.5</text>
<text transform="translate(460.54,397.9) scale(0.95,1)" text-anchor="middle" font-size="28.8">2.0</text>
<text transform="translate(554.12,397.9) scale(0.95,1)" text-anchor="middle" font-size="28.8">2.5</text>
<text transform="translate(647.71,397.9) scale(0.95,1)" text-anchor="middle" font-size="28.8">3.0</text>
<text transform="translate(71.3,371.70) scale(0.935,1)" text-anchor="end" font-size="28.6">0.0</text>
<text transform="translate(71.3,302.26) scale(0.935,1)" text-anchor="end" font-size="28.6">0.2</text>
<text transform="translate(71.3,232.82) scale(0.935,1)" text-anchor="end" font-size="28.6">0.4</text>
<text transform="translate(71.3,163.38) scale(0.935,1)" text-anchor="end" font-size="28.6">0.6</text>
<text transform="translate(71.3,93.94) scale(0.935,1)" text-anchor="end" font-size="28.6">0.8</text>
<text transform="translate(71.3,24.50) scale(0.935,1)" text-anchor="end" font-size="28.6">1.0</text>
<g font-size="27"><path d="M319.4,426.5 C320.5,424.6 321.8,423.2 323.6,423.1 L332.2,423.0 L331.5,424.8 L327.7,424.8 C326.9,427.5 325.7,430 325.5,431.8 C325.4,432.8 326.7,432.6 326.9,433.5 C327.1,434.5 326,435.1 325,435.1 C323.5,435.1 322.8,433.9 323.1,432.2 C323.5,430 324.8,427.3 325.5,424.8 L323.7,424.8 C322.1,424.9 321,425.7 319.9,426.8 Z"/><text x="339.2" y="435">[</text><text x="347.5" y="434" transform="translate(347.5,0) scale(1.1,1) translate(-347.5,0)">Δ</text><text x="366.5" y="434" class="i">ω</text><text x="383.3" y="426.8" font-size="18.5" transform="translate(383.3,0) scale(1.13,1) translate(-383.3,0)">−</text><text x="396.3" y="424.7" font-size="18.5" transform="translate(396.3,0) scale(0.9,1) translate(-396.3,0)">1</text><text x="404.8" y="435">]</text></g>
<g transform="translate(25,270.6) rotate(-90)" font-size="26">
<text transform="translate(0.00,0.00) scale(0.840,1.000)">R</text>
<path d="M24.90,-18.90 C12.37,-12.40 12.37,-2.20 24.90,4.30 L25.40,4.00 C15.30,-2.70 15.30,-11.90 25.40,-18.60 Z"/>
<path transform="translate(26.3,0.2) scale(0.83,0.9) translate(-319.4,-434)" d="M319.4,426.5 C320.5,424.6 321.8,423.2 323.6,423.1 L332.2,423.0 L331.5,424.8 L327.7,424.8 C326.9,427.5 325.7,430 325.5,431.8 C325.4,432.8 326.7,432.6 326.9,433.5 C327.1,434.5 326,435.1 325,435.1 C323.5,435.1 322.8,433.9 323.1,432.2 C323.5,430 324.8,427.3 325.5,424.8 L323.7,424.8 C322.1,424.9 321,425.7 319.9,426.8 Z"/>
<path d="M46.00,-18.90 C34.93,-12.40 34.93,-2.20 46.00,4.30 L46.50,4.00 C37.87,-2.70 37.87,-11.90 46.50,-18.60 Z" transform="translate(83.70,0) scale(-1,1)"/>
<text transform="translate(48.50,0.00) scale(1.120,1.000)">=</text>
<text transform="translate(65.00,0.00) scale(0.980,1.000)">Δ</text>
<text transform="translate(81.50,-11.30) scale(1.000,1.000)" font-size="17.5" class="i">2</text>
<text transform="translate(90.40,0.00) scale(1.000,1.000) skewX(-10)" class="i">ω</text>
<text transform="translate(94.90,-9.00) scale(1.200,1.000)" font-size="20">~</text>
<path d="M110.6,4 L118.3,-18.4" stroke="#000" stroke-width="1.4" fill="none"/>
<text transform="translate(120.00,0.00) scale(0.980,1.000)">Δ</text>
<text transform="translate(135.50,-11.30) scale(1.000,1.000)" font-size="17.5" class="i">2</text>
<text transform="translate(144.40,0.00) scale(1.000,1.000) skewX(-10)" class="i">ω</text>
</g>
</g>
</svg>
</body></html>
